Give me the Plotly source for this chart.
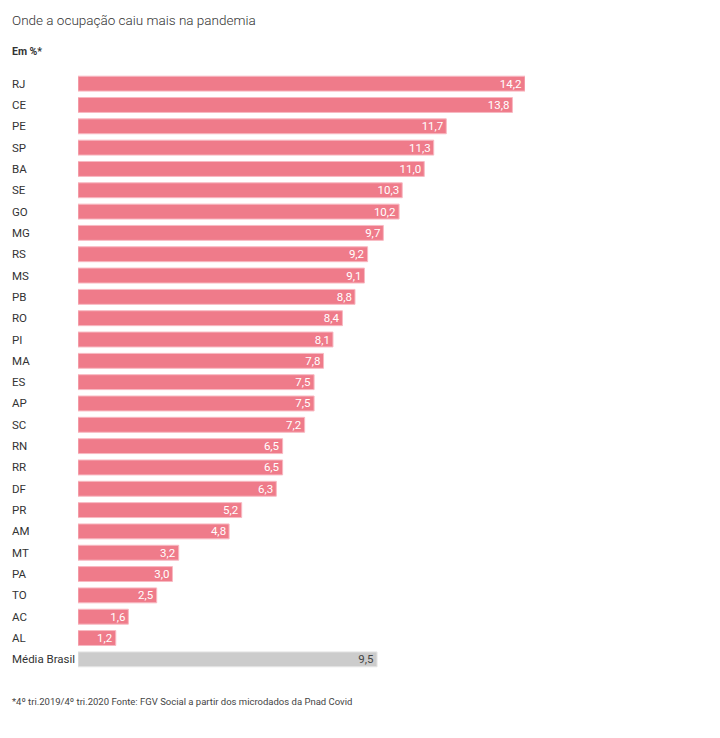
import plotly.graph_objects as go

states = ["RJ", "CE", "PE", "SP", "BA", "SE", "GO", "MG", "RS", "MS", "PB", "RO", "PI", "MA",
          "ES", "AP", "SC", "RN", "RR", "DF", "PR", "AM", "MT", "PA", "TO", "AC", "AL", "Média Brasil"]
values = [14.2, 13.8, 11.7, 11.3, 11.0, 10.3, 10.2, 9.7, 9.2, 9.1, 8.8, 8.4, 8.1, 7.8,
          7.5, 7.5, 7.2, 6.5, 6.5, 6.3, 5.2, 4.8, 3.2, 3.0, 2.5, 1.6, 1.2, 9.5]

title = "Onde a ocupação caiu mais na pandemia"
subtitle = "Em %*"
footer = "*4º tri.2019/4º tri.2020 Fonte: FGV Social a partir dos microdados da Pnad Covid"

FONT = "Roboto"
PINK = "#ef7b8a"
GRAY = "#cccccc"

colors = [GRAY if s == "Média Brasil" else PINK for s in states]
lines = ["#e6e6e6" if s == "Média Brasil" else "#f8b9c2" for s in states]
tcolors = ["#444444" if s == "Média Brasil" else "white" for s in states]
labels = [f"{v:.1f}".replace(".", ",") for v in values]

# page body adds an 8px offset; compensate
OFF = 8
W, H = 720, 738
ML, MR, MT, MB = 78 - OFF, 203, 65, 76
plot_w = W - ML - MR
plot_h = H - MT - MB

def px_x(x):
    return (x - OFF - ML) / plot_w

def px_y(y):
    return 1 - (y - OFF - MT) / plot_h

fig = go.Figure(go.Bar(
    x=values, y=states, orientation="h",
    marker=dict(color=colors, line=dict(color=lines, width=1)),
    text=labels, textposition="inside", insidetextanchor="end",
    textfont=dict(color=tcolors, size=11.5, family=FONT),
    width=0.7, hoverinfo="skip", cliponaxis=False,
))

annotations = []
for s in states:
    annotations.append(dict(
        x=px_x(10), xref="paper", y=s, yref="y",
        text=s, showarrow=False, xanchor="left", yanchor="middle",
        font=dict(size=11.5, color="#333333", family=FONT),
    ))
annotations.append(dict(x=px_x(10), xref="paper", y=px_y(20), yref="paper",
                        text=title, showarrow=False, xanchor="left", yanchor="middle",
                        font=dict(size=13.5, color="#333333", family=FONT, weight=300)))
annotations.append(dict(x=px_x(10), xref="paper", y=px_y(52), yref="paper",
                        text="<b>" + subtitle + "</b>", showarrow=False, xanchor="left", yanchor="middle",
                        font=dict(size=10.5, color="#333333", family=FONT)))
annotations.append(dict(x=px_x(10), xref="paper", y=px_y(701), yref="paper",
                        text=footer, showarrow=False, xanchor="left", yanchor="middle",
                        font=dict(size=9.5, color="#444444", family=FONT)))

fig.update_layout(
    width=W, height=H,
    margin=dict(l=ML, r=MR, t=MT, b=MB),
    paper_bgcolor="white", plot_bgcolor="white",
    showlegend=False,
    xaxis=dict(range=[0, 14.2], visible=False, fixedrange=True),
    yaxis=dict(categoryorder="array", categoryarray=states, autorange="reversed",
               showticklabels=False, showgrid=False, zeroline=False, fixedrange=True),
    annotations=annotations,
    uniformtext=dict(minsize=8, mode="show"),
    font=dict(family=FONT),
)

fig.write_html("out.html")
